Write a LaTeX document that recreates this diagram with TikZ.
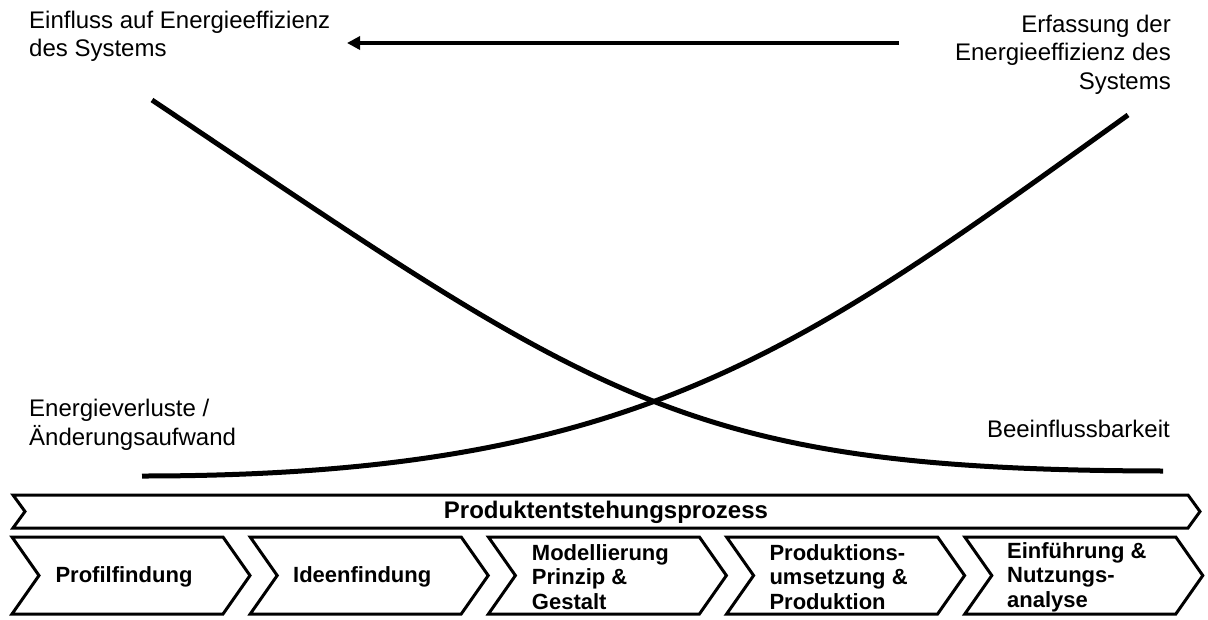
\documentclass[tikz,border=0pt]{standalone}
\usepackage{fontspec}
\setmainfont{Liberation Sans}
\usetikzlibrary{arrows.meta}
\begin{document}
\begin{tikzpicture}[x=1pt,y=-1pt,
  lbl/.style={font=\fontsize{24}{28.5}\selectfont, inner sep=0pt},
  phase/.style={font=\bfseries\fontsize{22}{24.5}\selectfont, align=left, inner sep=0pt},
  curve/.style={line width=5pt},
  chev/.style={draw, line width=3pt, line join=miter},
  flow/.style={line width=4pt, -{Triangle[length=13pt,width=13pt]}},
]
\useasboundingbox (0,0) rectangle (1208,619);
% curves
\coordinate (a0) at (152,100);
\coordinate (a1) at (1163,471);
\coordinate (b0) at (142,476);
\coordinate (b1) at (1128,115);
\draw[curve] (a0) .. controls (600,400) and (680,470) .. (a1);
\draw[curve] (b0) .. controls (640,476) and (800,350) .. (b1);
% arrow
\coordinate (arrS) at (899,43);
\coordinate (arrE) at (347,43);
\draw[flow] (arrS) -- (arrE);
% labels (base = baseline of last line)
\node[lbl, anchor=base west, align=left] (tl) at (29,56.5) {Einfluss auf Energieeffizienz\\des Systems};
\node[lbl, anchor=base east, align=right] (tr) at (1171,89) {Erfassung der\\Energieeffizienz des\\Systems};
\node[lbl, anchor=base west, align=left] (bl) at (29,445) {Energieverluste /\\Änderungsaufwand};
\node[lbl, anchor=base east] (br) at (1170,437) {Beeinflussbarkeit};
% top bar
\draw[chev] (13,495) -- (1188,495) -- (1200,511.5) -- (1188,528) -- (13,528) -- (25,511.5) -- cycle;
\node[phase, font=\bfseries\fontsize{24}{26}\selectfont] (pep) at (606,512) {Produktentstehungsprozess};
% phases
\foreach \i/\txt/\nm in {0/{Profilfindung}/p1, 1/{Ideenfindung}/p2, 2/{Modellierung\\Prinzip \&\\Gestalt}/p3, 3/{Produktions-\\umsetzung \&\\Produktion}/p4, 4/{Einführung \&\\Nutzungs-\\analyse}/p5}{
  \pgfmathsetmacro{\xo}{12+238.2*\i}
  \draw[chev] (\xo,537) -- ({\xo+211},537) -- ({\xo+238},575.5) -- ({\xo+211},614) -- (\xo,614) -- ({\xo+27},575.5) -- cycle;
  \node[phase] (\nm) at ({\xo+112},577) {\txt};
}
\end{tikzpicture}
\end{document}
